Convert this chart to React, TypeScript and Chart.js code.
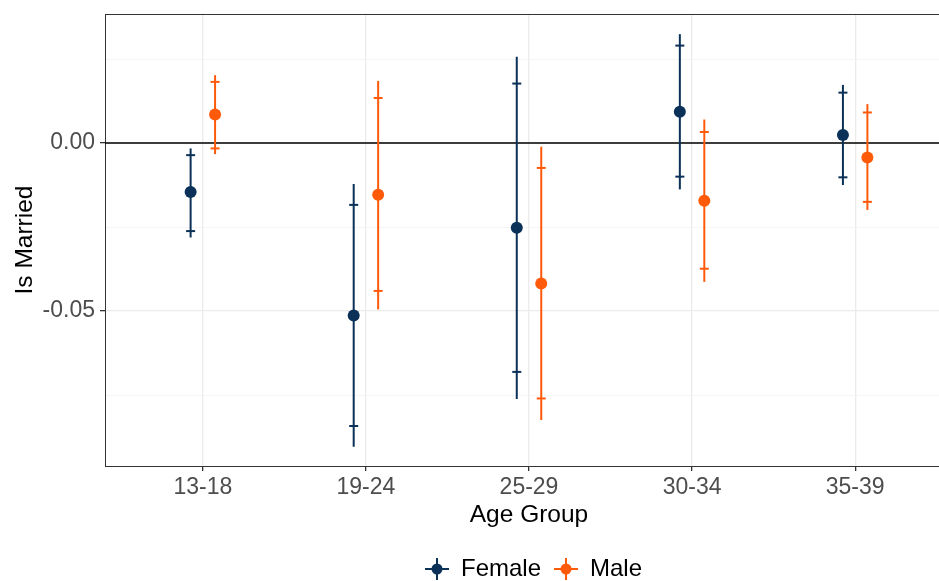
import React, { useEffect, useRef } from "react";
import { Chart, registerables } from "chart.js";

Chart.register(...registerables);

const categories = ["13-18", "19-24", "25-29", "30-34", "35-39"];
const seriesNames = ["Female", "Male"];
const seriesColors = ["#0b3158", "#ff5a0a"];

const femaleEst = [-0.0146, -0.0513, -0.0252, 0.0093, 0.0024];
const femaleLo95 = [-0.0281, -0.0904, -0.0762, -0.0138, -0.0125];
const femaleHi95 = [-0.0016, -0.0122, 0.0257, 0.0324, 0.0173];
const femaleLo90 = [-0.0262, -0.0842, -0.0681, -0.01, -0.0102];
const femaleHi90 = [-0.0036, -0.0184, 0.0177, 0.029, 0.015];

const maleEst = [0.0085, -0.0154, -0.0418, -0.0172, -0.0043];
const maleLo95 = [-0.0033, -0.0495, -0.0824, -0.0413, -0.0199];
const maleHi95 = [0.0202, 0.0185, -0.0011, 0.007, 0.0116];
const maleLo90 = [-0.0016, -0.044, -0.076, -0.0374, -0.0175];
const maleHi90 = [0.0182, 0.0134, -0.0074, 0.0033, 0.0091];

const yTicks = [-0.075, -0.05, -0.025, 0, 0.025];
const yLabelled = [-0.05, 0];
const dodge = 0.075;

const FONT = "'Liberation Sans', Arial, Helvetica, sans-serif";

const errorBarPlugin = {
  id: "errorBars",
  beforeDatasetsDraw(chart: any) {
    const { ctx, chartArea } = chart;
    const xs = chart.scales.x;
    const ys = chart.scales.y;
    ctx.save();
    ctx.strokeStyle = "#000000";
    ctx.lineWidth = 1.6;
    const y0 = ys.getPixelForValue(0);
    ctx.beginPath();
    ctx.moveTo(chartArea.left, y0);
    ctx.lineTo(chartArea.right, y0);
    ctx.stroke();
    chart.data.datasets.forEach((ds: any) => {
      ctx.strokeStyle = ds.borderColor;
      ctx.lineWidth = 2;
      ds.data.forEach((p: any, i: number) => {
        const x = xs.getPixelForValue(p.x);
        const a = ys.getPixelForValue(ds.lo95[i]);
        const b = ys.getPixelForValue(ds.hi95[i]);
        ctx.beginPath();
        ctx.moveTo(x, a);
        ctx.lineTo(x, b);
        ctx.stroke();
        [ds.lo90[i], ds.hi90[i]].forEach((v: number) => {
          const yy = ys.getPixelForValue(v);
          ctx.beginPath();
          ctx.moveTo(x - 4.5, yy);
          ctx.lineTo(x + 4.5, yy);
          ctx.stroke();
        });
      });
    });
    ctx.restore();
  },
  afterDraw(chart: any) {
    const { ctx, chartArea } = chart;
    ctx.save();
    ctx.strokeStyle = "#333333";
    ctx.lineWidth = 1;
    ctx.beginPath();
    ctx.moveTo(chartArea.left, chartArea.top + 0.5);
    ctx.lineTo(chartArea.right, chartArea.top + 0.5);
    ctx.stroke();
    ctx.font = `24px ${FONT}`;
    ctx.textBaseline = "middle";
    ctx.textAlign = "left";
    const cy = 569;
    let x = 425;
    chart.data.datasets.forEach((ds: any) => {
      const cx = x + 12;
      ctx.strokeStyle = ds.borderColor;
      ctx.fillStyle = ds.borderColor;
      ctx.lineWidth = 2;
      ctx.beginPath();
      ctx.moveTo(x, cy);
      ctx.lineTo(x + 24, cy);
      ctx.moveTo(cx, cy - 11);
      ctx.lineTo(cx, cy + 11);
      ctx.stroke();
      ctx.beginPath();
      ctx.arc(cx, cy, 5.5, 0, Math.PI * 2);
      ctx.fill();
      ctx.fillStyle = "#000000";
      ctx.fillText(ds.label, x + 36, cy);
      x += 36 + ctx.measureText(ds.label).width + 13;
    });
    ctx.restore();
  },
};

export default function App() {
  const ref = useRef<HTMLCanvasElement | null>(null);
  useEffect(() => {
    if (!ref.current) return;
    const mk = (est: number[], lo95: number[], hi95: number[], lo90: number[], hi90: number[], k: number) => ({
      label: seriesNames[k],
      data: categories.map((_, i) => ({ x: i + (k === 0 ? -dodge : dodge), y: est[i] })),
      borderColor: seriesColors[k],
      backgroundColor: seriesColors[k],
      pointRadius: 6,
      pointHoverRadius: 6,
      pointBorderWidth: 0,
      showLine: false,
      lo95,
      hi95,
      lo90,
      hi90,
    });
    const chart = new Chart(ref.current, {
      type: "scatter",
      data: {
        datasets: [
          mk(femaleEst, femaleLo95, femaleHi95, femaleLo90, femaleHi90, 0) as any,
          mk(maleEst, maleLo95, maleHi95, maleLo90, maleHi90, 1) as any,
        ],
      },
      plugins: [errorBarPlugin],
      options: {
        animation: false,
        responsive: false,
        maintainAspectRatio: false,
        layout: { autoPadding: false, padding: { top: 14, right: 7, bottom: 49, left: 0 } },
        plugins: { legend: { display: false }, tooltip: { enabled: false } },
        scales: {
          x: {
            type: "linear",
            min: -0.6,
            max: 4.6,
            afterBuildTicks: (s: any) => {
              s.ticks = categories.map((_, i) => ({ value: i }));
            },
            afterFit: (s: any) => {
              s.height = 66;
              s.paddingLeft = 0;
              s.paddingRight = 0;
            },
            ticks: {
              autoSkip: false,
              maxRotation: 0,
              padding: 3,
              color: "#4d4d4d",
              font: { family: FONT, size: 23 },
              callback: (v: any) => categories[Math.round(Number(v))] ?? "",
            },
            grid: { color: "#ebebeb", lineWidth: 1.3, tickLength: 5, tickColor: "#333333" },
            border: { display: true, color: "#333333", width: 1 },
            title: {
              display: true,
              text: "Age Group",
              color: "#000000",
              font: { family: FONT, size: 24.5 },
              padding: { top: 0, bottom: 2 },
            },
          },
          y: {
            type: "linear",
            min: -0.0961,
            max: 0.0384,
            afterBuildTicks: (s: any) => {
              s.ticks = yTicks.map((v) => ({ value: v }));
            },
            afterFit: (s: any) => {
              s.width = 105;
              s.paddingTop = 0;
              s.paddingBottom = 0;
            },
            ticks: {
              padding: 5,
              color: "#4d4d4d",
              font: { family: FONT, size: 23 },
              callback: (v: any) => {
                const n = Number(v);
                return yLabelled.some((t) => Math.abs(t - n) < 1e-9) ? n.toFixed(2) : "";
              },
            },
            grid: {
              color: (c: any) => (yLabelled.some((t) => Math.abs(t - c.tick.value) < 1e-9) ? "#ebebeb" : "#f3f3f3"),
              lineWidth: (c: any) => (yLabelled.some((t) => Math.abs(t - c.tick.value) < 1e-9) ? 1.3 : 0.8),
              tickLength: 5,
              tickColor: (c: any) => (yLabelled.some((t) => Math.abs(t - c.tick.value) < 1e-9) ? "#333333" : "rgba(0,0,0,0)"),
            },
            border: { display: true, color: "#333333", width: 1 },
            title: {
              display: true,
              text: "Is Married",
              color: "#000000",
              font: { family: FONT, size: 24.5 },
              padding: { top: 11, bottom: 0 },
            },
          },
        },
      },
    });
    return () => chart.destroy();
  }, []);
  return (
    <div style={{ position: "fixed", left: 0, top: 0, width: 939, height: 581, overflow: "hidden", background: "#ffffff" }}>
      <canvas ref={ref} width={960} height={581} style={{ display: "block" }} />
    </div>
  );
}
